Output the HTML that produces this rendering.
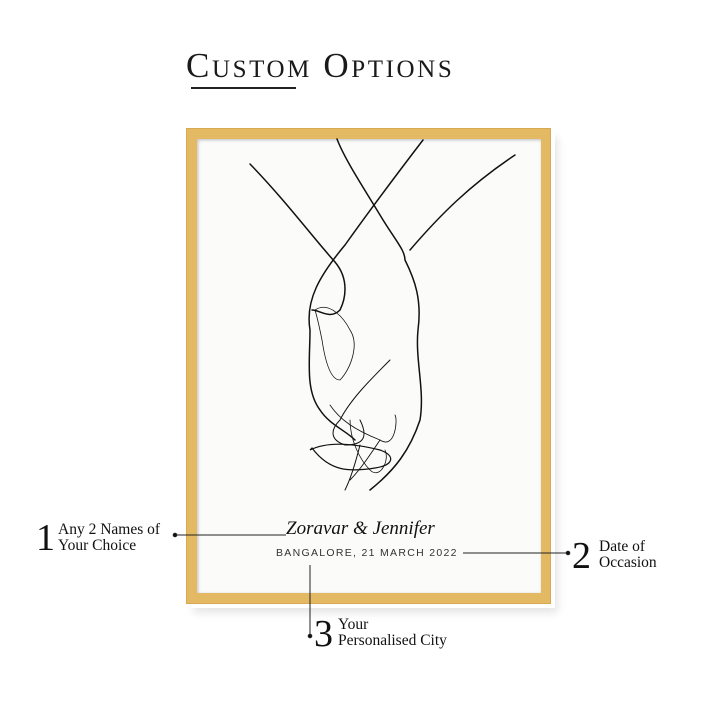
<!DOCTYPE html>
<html><head><meta charset="utf-8"><style>
html,body{margin:0;padding:0;background:#fff;}
body{width:720px;height:720px;position:relative;overflow:hidden;font-family:"Liberation Serif",serif;color:#111;}
.t{position:absolute;white-space:nowrap;}
</style></head><body>
<div class="t" style="left:186px;top:46px;font-size:35px;font-variant:small-caps;letter-spacing:2.6px;color:#1a1a1a;">Custom Options</div>
<div style="position:absolute;left:191px;top:87px;width:105px;height:1.5px;background:#222"></div>

<div style="position:absolute;left:190px;top:132px;width:365px;height:476px;box-shadow:3px 5px 8px rgba(0,0,0,0.10)"></div>
<div style="position:absolute;left:186px;top:128px;width:365px;height:476px;background:#e4b964;box-sizing:border-box;border:1px solid #d9a94f"></div>
<div style="position:absolute;left:197px;top:139px;width:344px;height:454px;background:#fbfbfa;box-shadow:inset 1px 1px 3px rgba(0,0,0,0.25)"></div>

<svg style="position:absolute;left:0;top:0" width="720" height="720" fill="none" stroke="#111" stroke-linecap="round">
<path d="M250 164 C285 200 315 240 335 262 C350 280 345 300 340 310 C330 320 320 310 312 310" stroke-width="1.5"/>
<path d="M337 139 C345 160 365 190 380 215 C395 240 405 250 405 260 C415 280 422 300 418 330 C415 360 425 390 420 420 C410 450 395 470 370 490" stroke-width="1.5"/>
<path d="M423 140 C400 170 370 210 345 245 C320 275 305 300 310 330 C310 360 305 390 320 410 C330 425 345 430 355 440" stroke-width="1.5"/>
<path d="M515 155 C470 185 440 215 410 250" stroke-width="1.5"/>
<path d="M315 310 C330 300 345 320 350 330 C360 345 350 370 340 380 C330 380 325 360 322 340 C318 320 315 310 315 310" stroke-width="0.8"/>
<path d="M390 360 C370 380 350 400 340 420 C330 430 330 440 345 445 C360 445 370 440 360 420" stroke-width="1"/>
<path d="M330 405 C340 420 355 430 380 440 C395 450 398 420 395 415" stroke-width="0.8"/>
<path d="M310 450 C330 440 360 445 380 450 C395 455 395 465 375 468 C350 472 330 472 312 448 Z" stroke-width="1.2"/>
<path d="M350 420 C350 440 360 460 370 470 C380 480 390 460 385 450" stroke-width="0.8"/>
<path d="M360 445 C355 465 350 480 345 490" stroke-width="1"/>
<path d="M380 440 C370 455 360 470 350 480" stroke-width="0.9"/>
</svg>

<div class="t" style="left:286px;top:518px;font-family:'Liberation Serif',serif;font-style:italic;font-size:19px;color:#111;">Zoravar &amp; Jennifer</div>
<div class="t" style="left:276px;top:547px;font-family:'Liberation Sans',sans-serif;font-size:10.5px;letter-spacing:1.3px;color:#333;">BANGALORE, 21 MARCH 2022</div>

<svg style="position:absolute;left:0;top:0" width="720" height="720" stroke="#222" fill="#111">
<line x1="176" y1="535" x2="286" y2="535" stroke-width="1"/><circle cx="175" cy="535" r="1.8"/>
<line x1="463" y1="553" x2="567" y2="553" stroke-width="1"/><circle cx="568" cy="553" r="1.8"/>
<line x1="310" y1="565" x2="310" y2="636" stroke-width="1"/><circle cx="310" cy="636" r="1.8"/>
</svg>

<div class="t" style="left:36px;top:517px;font-size:38px;line-height:42px;">1</div>
<div class="t" style="left:58px;top:522px;font-size:15.5px;line-height:16px;">Any 2 Names of<br>Your Choice</div>
<div class="t" style="left:572px;top:535px;font-size:38px;line-height:42px;">2</div>
<div class="t" style="left:599px;top:539px;font-size:15.5px;line-height:16px;">Date of<br>Occasion</div>
<div class="t" style="left:314px;top:613px;font-size:38px;line-height:42px;">3</div>
<div class="t" style="left:338px;top:617px;font-size:15.5px;line-height:16px;">Your<br>Personalised City</div>
</body></html>
